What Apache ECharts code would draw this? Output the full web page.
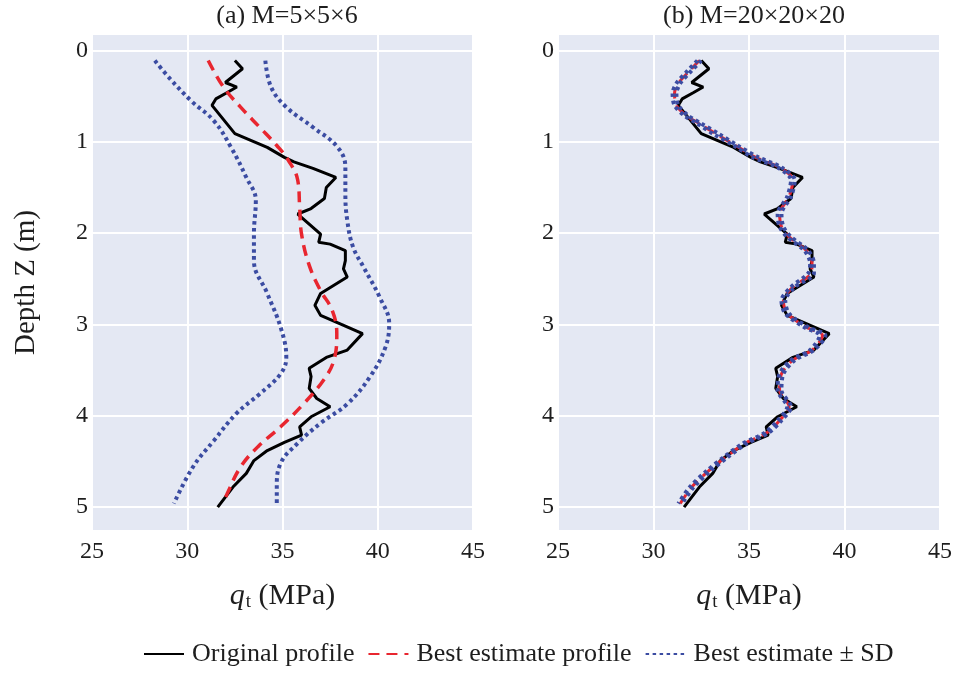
<!DOCTYPE html>
<html>
<head>
<meta charset="utf-8">
<script src="https://cdn.jsdelivr.net/npm/echarts@6/dist/echarts.min.js"></script>
<style>
  html, body { margin: 0; padding: 0; background: #fff; }
  #main { width: 956px; height: 675px; }
</style>
</head>
<body>
<div id="main"></div>
<script>
// ticks
const qtTicks = [25, 30, 35, 40, 45]
const depthTicks = [0, 1, 2, 3, 4, 5]

// original CPT profile (same in both panels)
const origDepth = [0.11, 0.20, 0.35, 0.40, 0.46, 0.53, 0.60, 0.91, 1.06, 1.17, 1.22, 1.29, 1.39, 1.50, 1.62, 1.73, 1.79, 2.01, 2.10, 2.12, 2.19, 2.30, 2.39, 2.48, 2.66, 2.79, 2.90, 2.99, 3.10, 3.28, 3.36, 3.48, 3.57, 3.70, 3.81, 3.90, 4.01, 4.12, 4.21, 4.29, 4.38, 4.49, 4.63, 4.78, 5.00]
const origQt = [32.5, 32.9, 32.0, 32.6, 32.1, 31.5, 31.3, 32.5, 34.2, 35.1, 35.6, 36.6, 37.8, 37.3, 37.2, 36.5, 35.8, 37.0, 36.9, 37.5, 38.3, 38.3, 38.2, 38.4, 37.0, 36.7, 37.0, 38.0, 39.2, 38.4, 37.3, 36.4, 36.5, 36.4, 36.8, 37.5, 36.5, 35.9, 36.0, 35.1, 34.2, 33.5, 33.1, 32.4, 31.6]

// (a) M=5x5x6
const estDepthA = [0.11, 0.40, 0.62, 0.84, 1.04, 1.20, 1.42, 1.71, 2.01, 2.35, 2.63, 2.84, 3.10, 3.39, 3.61, 3.87, 4.12, 4.34, 4.56, 4.85, 4.95]
const estQtA = [31.1, 31.9, 32.8, 33.8, 34.7, 35.3, 35.8, 35.9, 36.0, 36.4, 37.0, 37.6, 37.85, 37.7, 37.15, 36.1, 34.9, 33.7, 32.8, 32.1, 31.9]
const lowDepthA = [0.11, 0.31, 0.55, 0.77, 1.06, 1.39, 1.64, 2.01, 2.30, 2.66, 3.03, 3.36, 3.54, 3.76, 3.97, 4.27, 4.56, 4.96]
const lowQtA = [28.3, 29.1, 30.2, 31.4, 32.3, 33.1, 33.6, 33.5, 33.5, 34.2, 34.9, 35.2, 34.9, 33.8, 32.6, 31.4, 30.3, 29.3]
const highDepthA = [0.11, 0.40, 0.62, 0.84, 1.06, 1.28, 1.57, 1.86, 2.15, 2.37, 2.70, 2.99, 3.25, 3.57, 3.87, 4.08, 4.30, 4.52, 4.78, 4.98]
const highQtA = [34.1, 34.4, 35.2, 36.6, 37.9, 38.3, 38.3, 38.4, 38.7, 39.25, 40.1, 40.6, 40.4, 39.6, 38.4, 37.0, 35.8, 34.9, 34.7, 34.7]

// (b) M=20x20x20
const depthB = [0.11, 0.22, 0.36, 0.47, 0.60, 0.71, 0.80, 0.91, 1.04, 1.17, 1.28, 1.42, 1.60, 1.79, 1.93, 2.04, 2.19, 2.33, 2.44, 2.59, 2.74, 2.88, 3.03, 3.12, 3.28, 3.39, 3.54, 3.72, 3.90, 4.05, 4.19, 4.30, 4.45, 4.60, 4.78, 4.96]
const estQtB = [32.4, 31.9, 31.3, 31.1, 31.2, 31.7, 32.4, 33.25, 34.3, 35.35, 36.6, 37.3, 37.1, 36.6, 36.7, 37.1, 38.0, 38.3, 38.25, 37.3, 36.8, 37.0, 38.0, 38.85, 38.3, 37.3, 36.7, 36.6, 37.1, 36.6, 35.9, 34.8, 33.8, 32.9, 32.0, 31.4]
const lowQtB = [32.3, 31.8, 31.2, 31.0, 31.1, 31.6, 32.3, 33.1, 34.2, 35.2, 36.5, 37.2, 37.0, 36.5, 36.6, 37.0, 37.9, 38.2, 38.1, 37.2, 36.7, 36.9, 37.9, 38.7, 38.2, 37.2, 36.6, 36.5, 37.0, 36.5, 35.8, 34.7, 33.7, 32.8, 31.9, 31.3]
const highQtB = [32.5, 32.0, 31.4, 31.2, 31.3, 31.8, 32.5, 33.4, 34.4, 35.5, 36.7, 37.4, 37.2, 36.7, 36.8, 37.2, 38.1, 38.4, 38.4, 37.4, 36.9, 37.1, 38.1, 39.0, 38.4, 37.4, 36.8, 36.7, 37.2, 36.7, 36.0, 34.9, 33.9, 33.0, 32.1, 31.5]

const FONT = 'Liberation Serif'
const TXT = '#1e1e1e'
const BLACK = '#000000'
const RED = '#e8262f'
const BLUE = '#3b4ca2'

const pts = (qt, depth) => depth.map((d, i) => [qt[i], d])

function xAx(idx) {
  return {
    type: 'value', gridIndex: idx, min: qtTicks[0], max: qtTicks[qtTicks.length - 1], interval: 5,
    axisLine: { show: false }, axisTick: { show: false },
    axisLabel: { fontFamily: FONT, fontSize: 24, color: TXT, margin: 10 },
    splitLine: { lineStyle: { color: '#ffffff', width: 2 } },
    name: '{q|q}{t|t}{u| (MPa)}', nameLocation: 'middle', nameGap: 51, nameMoveOverlap: false,
    nameTextStyle: {
      rich: {
        q: { fontFamily: FONT, fontSize: 30, fontStyle: 'italic', color: TXT },
        t: { fontFamily: FONT, fontSize: 19, color: TXT, padding: [12, 0, 0, 1] },
        u: { fontFamily: FONT, fontSize: 30, color: TXT }
      }
    }
  }
}

function yAx(idx, withName) {
  return {
    type: 'value', gridIndex: idx, inverse: true, min: -0.17, max: 5.25,
    axisLine: { show: false },
    axisTick: { show: false, customValues: depthTicks },
    axisLabel: { customValues: depthTicks, fontFamily: FONT, fontSize: 24, color: TXT, margin: 4 },
    splitLine: { show: true, lineStyle: { color: '#ffffff', width: 2 } },
    name: withName ? 'Depth Z (m)' : '', nameLocation: 'middle', nameGap: 51, nameRotate: 90,
    nameMoveOverlap: false,
    nameTextStyle: { fontFamily: FONT, fontSize: 29, color: TXT }
  }
}

function line(name, idx, data, color, type, width, smooth) {
  return {
    name: name, type: 'line', xAxisIndex: idx, yAxisIndex: idx,
    data: data, symbol: 'none', smooth: smooth, animation: false,
    lineStyle: { color: color, width: width, type: type },
    itemStyle: { color: color }
  }
}

const chart = echarts.init(document.getElementById('main'))
chart.setOption({
  backgroundColor: '#fff',
  title: [
    { text: '(a) M=5×5×6', left: 282, top: -2, textAlign: 'center', textStyle: { fontFamily: FONT, fontSize: 26, fontWeight: 'normal', color: TXT } },
    { text: '(b) M=20×20×20', left: 749, top: -2, textAlign: 'center', textStyle: { fontFamily: FONT, fontSize: 26, fontWeight: 'normal', color: TXT } }
  ],
  grid: [
    { left: 92, top: 35, width: 381, height: 495, show: true, backgroundColor: '#e4e8f3', borderWidth: 0, outerBoundsMode: 'none' },
    { left: 558, top: 35, width: 382, height: 495, show: true, backgroundColor: '#e4e8f3', borderWidth: 0, outerBoundsMode: 'none' }
  ],
  xAxis: [xAx(0), xAx(1)],
  yAxis: [yAx(0, true), yAx(1, false)],
  legend: {
    bottom: 3, left: 138, itemWidth: 40, itemHeight: 14, itemGap: 13,
    itemStyle: { opacity: 0 },
    data: ['Original profile', 'Best estimate profile', 'Best estimate ± SD'],
    textStyle: { fontFamily: FONT, fontSize: 26, color: TXT, padding: [0, 0, 0, 3] }
  },
  series: [
    line('Original profile', 0, pts(origQt, origDepth), BLACK, 'solid', 3, false),
    line('Best estimate profile', 0, pts(estQtA, estDepthA), RED, [11, 7], 3.5, 0.4),
    line('Best estimate ± SD', 0, pts(lowQtA, lowDepthA), BLUE, [3.5, 3.5], 4, 0.4),
    line('Best estimate ± SD', 0, pts(highQtA, highDepthA), BLUE, [3.5, 3.5], 4, 0.4),
    line('Original profile', 1, pts(origQt, origDepth), BLACK, 'solid', 3, false),
    line('Best estimate profile', 1, pts(estQtB, depthB), RED, [11, 7], 3, 0.3),
    line('Best estimate ± SD', 1, pts(lowQtB, depthB), BLUE, [3.5, 3.5], 4, 0.3),
    line('Best estimate ± SD', 1, pts(highQtB, depthB), BLUE, [3.5, 3.5], 4, 0.3)
  ]
})
</script>
</body>
</html>
